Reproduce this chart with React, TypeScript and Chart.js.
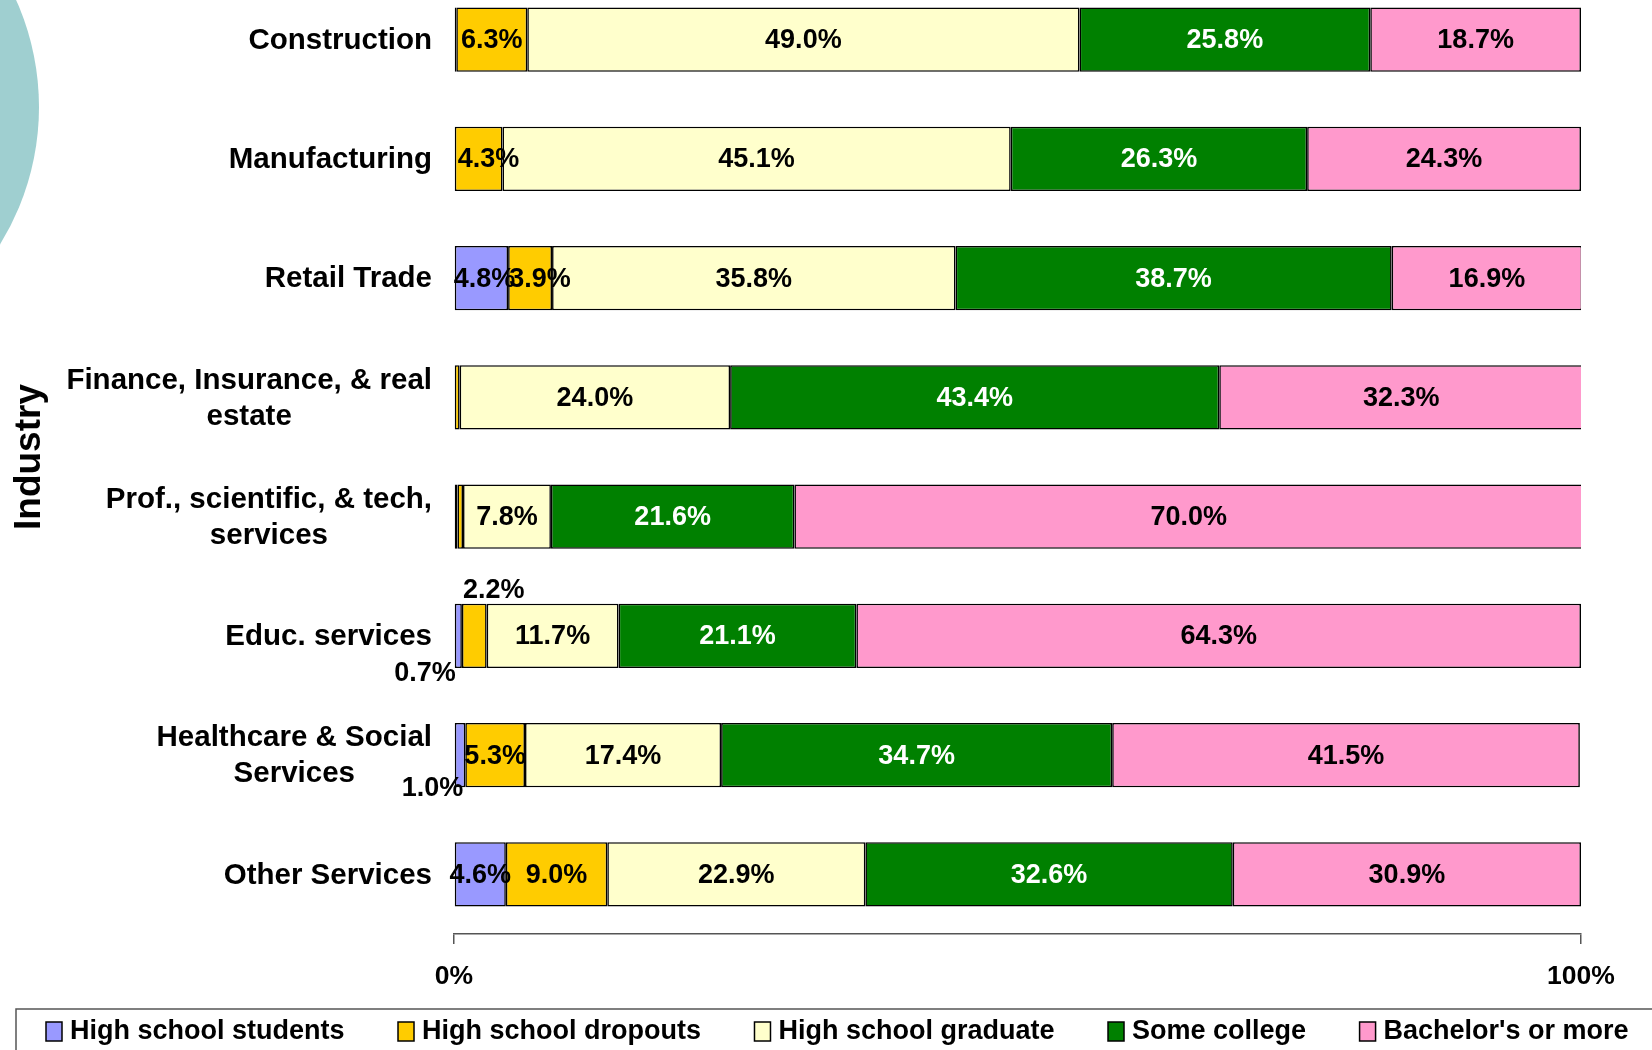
import React, { useEffect, useRef } from "react";
import { Chart, registerables } from "chart.js";
Chart.register(...registerables);

// ---- data ----
const industries: string[][] = [
  ["Construction"],
  ["Manufacturing"],
  ["Retail Trade"],
  ["Finance, Insurance, & real", "estate"],
  ["Prof., scientific, & tech,", "services"],
  ["Educ. services"],
  ["Healthcare & Social", "Services"],
  ["Other Services"],
];
const seriesNames = [
  "High school students",
  "High school dropouts",
  "High school graduate",
  "Some college",
  "Bachelor's or more",
];
const hsStudents = [0.2, 0, 4.8, 0, 0.3, 0.7, 1.0, 4.6];
const hsDropouts = [6.3, 4.3, 3.9, 0.5, 0.5, 2.2, 5.3, 9.0];
const hsGraduate = [49.0, 45.1, 35.8, 24.0, 7.8, 11.7, 17.4, 22.9];
const someCollege = [25.8, 26.3, 38.7, 43.4, 21.6, 21.1, 34.7, 32.6];
const bachelors = [18.7, 24.3, 16.9, 32.3, 70.0, 64.3, 41.5, 30.9];
const xTickValues = [0, 100];
const axisTitle = "Industry";

const seriesValues = [hsStudents, hsDropouts, hsGraduate, someCollege, bachelors];
const seriesColors = ["#9999FF", "#FFCC00", "#FFFFCC", "#008000", "#FF99CC"];
const labelColors = ["#000", "#000", "#000", "#fff", "#000"];

const FONT = "'Liberation Sans', Arial, Helvetica, sans-serif";
const OFF = 40; // canvas is shifted up by this many px

// label placement tweaks keyed by `${index}-${datasetIndex}`
const tweaks: Record<string, { mode?: string; dx?: number }> = {
  "1-1": { dx: 10 },
  "2-0": { dx: 3 },
  "2-1": { dx: 10 },
  "5-0": { mode: "belowLeft" },
  "5-1": { mode: "above" },
  "6-0": { mode: "belowEnd" },
};

const decorPlugin = {
  id: "decor",
  beforeDraw(chart: any) {
    const ctx = chart.ctx;
    ctx.save();
    ctx.fillStyle = "#fff";
    ctx.fillRect(0, 0, chart.width, chart.height);
    ctx.fillStyle = "#9FCFD0";
    ctx.beginPath();
    ctx.arc(-223, 107 + OFF, 262, 0, Math.PI * 2);
    ctx.fill();
    ctx.restore();
  },
  afterDatasetsDraw(chart: any) {
    const ctx = chart.ctx;
    ctx.save();
    ctx.font = `bold 27px ${FONT}`;
    chart.data.datasets.forEach((ds: any, di: number) => {
      const meta = chart.getDatasetMeta(di);
      meta.data.forEach((bar: any, i: number) => {
        const v = ds.data[i];
        const tw = tweaks[`${i}-${di}`] || {};
        if (!tw.mode && v < 0.6) return;
        const { x, y, base, height } = bar.getProps(["x", "y", "base", "height"], true);
        const text = v.toFixed(1) + "%";
        ctx.fillStyle = labelColors[di];
        ctx.textBaseline = "middle";
        if (tw.mode === "belowLeft") {
          ctx.fillStyle = "#000";
          ctx.textAlign = "right";
          ctx.fillText(text, base + 1, y + height / 2 + 5);
        } else if (tw.mode === "belowEnd") {
          ctx.fillStyle = "#000";
          ctx.textAlign = "right";
          ctx.fillText(text, x - 2, y + height / 2 + 1);
        } else if (tw.mode === "above") {
          ctx.fillStyle = "#000";
          ctx.textAlign = "left";
          ctx.fillText(text, base + 1, y - height / 2 - 13);
        } else {
          ctx.textAlign = "center";
          ctx.fillText(text, (x + base) / 2 + (tw.dx || 0), y + 1);
        }
      });
    });
    ctx.restore();
  },
  afterDraw(chart: any) {
    const ctx = chart.ctx;
    const yScale = chart.scales.y;
    ctx.save();
    // category labels
    ctx.font = `bold 29.5px ${FONT}`;
    ctx.fillStyle = "#000";
    ctx.textBaseline = "middle";
    ctx.textAlign = "center";
    const right = 432;
    const lh = 36;
    industries.forEach((lines, i) => {
      const yc = yScale.getPixelForValue(i);
      const w = Math.max(...lines.map((l) => ctx.measureText(l).width));
      const cx = right - w / 2;
      const y0 = yc - ((lines.length - 1) * lh) / 2;
      lines.forEach((l, k) => ctx.fillText(l, cx, y0 + k * lh + 1));
    });
    // legend box
    ctx.strokeStyle = "#555";
    ctx.lineWidth = 1.5;
    ctx.strokeRect(16, 1009 + OFF, 1700, 200);
    // legend items
    ctx.font = `bold 27px ${FONT}`;
    ctx.textAlign = "left";
    let lx = 46;
    const ly = 1031 + OFF;
    chart.data.datasets.forEach((ds: any) => {
      ctx.fillStyle = ds.backgroundColor;
      ctx.fillRect(lx, ly - 9, 16, 19);
      ctx.strokeStyle = "#000";
      ctx.lineWidth = 1.5;
      ctx.strokeRect(lx, ly - 9, 16, 19);
      ctx.fillStyle = "#000";
      ctx.fillText(ds.label, lx + 24, ly + 1);
      lx += 24 + ctx.measureText(ds.label).width + 53.5;
    });
    ctx.restore();
  },
};

export default function App() {
  const ref = useRef<HTMLCanvasElement | null>(null);
  useEffect(() => {
    if (!ref.current) return;
    const chart = new Chart(ref.current, {
      type: "bar",
      data: {
        labels: industries.map((l) => l.join(" ")),
        datasets: seriesNames.map((name, k) => ({
          label: name,
          data: seriesValues[k],
          backgroundColor: seriesColors[k],
          borderColor: "#000",
          borderWidth: 1.6,
          borderSkipped: false,
          categoryPercentage: 1,
          barPercentage: 0.54,
        })),
      },
      options: {
        indexAxis: "y",
        responsive: false,
        animation: false,
        devicePixelRatio: 1,
        layout: { padding: { top: 20, right: 71, bottom: 56, left: 0 } },
        plugins: { legend: { display: false }, tooltip: { enabled: false } },
        scales: {
          x: {
            stacked: true,
            min: 0,
            max: 100,
            position: "bottom",
            afterBuildTicks: (s: any) => {
              s.ticks = xTickValues.map((v) => ({ value: v }));
            },
            afterFit: (s: any) => {
              s.height = 60;
            },
            grid: {
              display: true,
              drawOnChartArea: false,
              drawTicks: true,
              tickLength: 10,
              color: "#555",
              lineWidth: 1.5,
            },
            border: { display: true, color: "#555", width: 1.5 },
            ticks: {
              padding: 17,
              color: "#000",
              autoSkip: false,
              maxRotation: 0,
              font: { family: FONT, size: 26.5, weight: "bold" },
              callback: (v: any) => v + "%",
            },
          },
          y: {
            stacked: true,
            afterFit: (s: any) => {
              s.width = 454;
            },
            grid: { display: false },
            border: { display: false },
            ticks: { display: false },
            title: {
              display: true,
              text: axisTitle,
              color: "#000",
              font: { family: FONT, size: 37, weight: "bold" },
              padding: { top: 8, bottom: 0 },
            },
          },
        },
      },
      plugins: [decorPlugin],
    } as any);
    return () => chart.destroy();
  }, []);
  return (
    <div
      style={{
        position: "absolute",
        left: 0,
        top: 0,
        width: 1652,
        height: 1050,
        overflow: "hidden",
        background: "#fff",
      }}
    >
      <canvas
        ref={ref}
        width={1652}
        height={1050 + OFF}
        style={{ position: "absolute", left: 0, top: -OFF, width: 1652, height: 1050 + OFF }}
      />
    </div>
  );
}
